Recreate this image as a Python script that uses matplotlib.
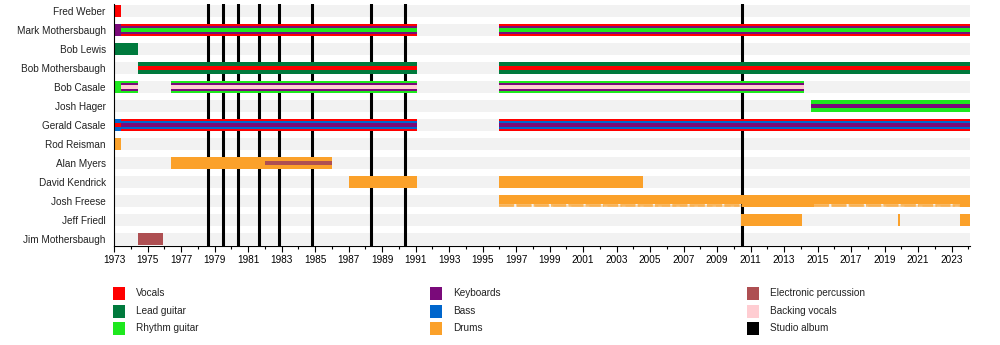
import matplotlib.pyplot as plt
from matplotlib.patches import Rectangle

END = 2024.1

members = ["Fred Weber", "Mark Mothersbaugh", "Bob Lewis", "Bob Mothersbaugh",
           "Bob Casale", "Josh Hager", "Gerald Casale", "Rod Reisman",
           "Alan Myers", "David Kendrick", "Josh Freese", "Jeff Friedl",
           "Jim Mothersbaugh"]

# stints: (start, end, roles from outer stripe to inner stripe)
fred_weber = [(1973.0, 1973.4, ["Vocals"])]
mark_mothersbaugh = [(1973.0, 1973.4, ["Keyboards"]),
                     (1973.4, 1991.1, ["Vocals", "Keyboards", "Rhythm guitar"]),
                     (1996.0, END, ["Vocals", "Keyboards", "Rhythm guitar"])]
bob_lewis = [(1973.0, 1974.45, ["Lead guitar"])]
bob_mothersbaugh = [(1974.45, 1991.1, ["Lead guitar", "Vocals"]),
                    (1996.0, END, ["Lead guitar", "Vocals"])]
bob_casale = [(1973.0, 1973.4, ["Rhythm guitar"]),
              (1973.4, 1974.45, ["Rhythm guitar", "Keyboards", "Backing vocals"]),
              (1976.43, 1991.1, ["Rhythm guitar", "Keyboards", "Backing vocals"]),
              (1996.0, 2014.2, ["Rhythm guitar", "Keyboards", "Backing vocals"])]
josh_hager = [(2014.6, END, ["Rhythm guitar", "Keyboards"])]
gerald_casale = [(1973.0, 1973.4, ["Bass", "Vocals"]),
                 (1973.4, 1991.1, ["Vocals", "Bass", "Keyboards"]),
                 (1996.0, END, ["Vocals", "Bass", "Keyboards"])]
rod_reisman = [(1973.0, 1973.4, ["Drums"])]
alan_myers = [(1976.43, 1982.0, ["Drums"]),
              (1982.0, 1986.03, ["Drums", "Electronic percussion"])]
david_kendrick = [(1987.0, 1991.1, ["Drums"]),
                  (1996.0, 2004.6, ["Drums"])]
josh_freese = [(2010.5, 2014.8, ["Drums"]),
               (2023.5, END, ["Drums"])]
freese_partial = [(1996.0, 2010.5), (2014.8, 2023.5)]
jeff_friedl = [(2010.45, 2014.05, ["Drums"]),
               (2019.8, 2019.9, ["Drums"]),
               (2023.5, END, ["Drums"])]
jim_mothersbaugh = [(1974.45, 1975.9, ["Electronic percussion"])]

lineup = [fred_weber, mark_mothersbaugh, bob_lewis, bob_mothersbaugh,
          bob_casale, josh_hager, gerald_casale, rod_reisman, alan_myers,
          david_kendrick, josh_freese, jeff_friedl, jim_mothersbaugh]

albums = [1978.6, 1979.5, 1980.4, 1981.65, 1982.85, 1984.8, 1988.35, 1990.4, 2010.5]

colors = {
    "Vocals": "#ff0000",
    "Lead guitar": "#007a3d",
    "Rhythm guitar": "#1ee81e",
    "Keyboards": "#7a0a7a",
    "Bass": "#0066cc",
    "Drums": "#fba12a",
    "Electronic percussion": "#ae4f52",
    "Backing vocals": "#ffcdd2",
    "Studio album": "#000000",
}
legend_cols = [["Vocals", "Lead guitar", "Rhythm guitar"],
               ["Keyboards", "Bass", "Drums"],
               ["Electronic percussion", "Backing vocals", "Studio album"]]

# stripe heights by number of stacked roles
heights = {1: [0.63], 2: [0.63, 0.25], 3: [0.63, 0.42, 0.23]}

plt.rcParams['font.family'] = ['Liberation Sans', 'DejaVu Sans']
fig = plt.figure(figsize=(10, 3.45), dpi=100)
ax = fig.add_axes([0.114, 0.2884, 0.856, 0.6986])

for i in range(len(members)):
    ax.broken_barh([(1973.0, END - 1973.0)], (i - 0.315, 0.63),
                   color="#f2f2f2", zorder=1, lw=0)

ax.vlines(albums, -0.5, len(members), color="black", lw=2.2, zorder=2)

for i, stints in enumerate(lineup):
    for start, end, roles in stints:
        for role, h in zip(roles, heights[len(roles)]):
            ax.broken_barh([(start, end - start)], (i - h / 2, h),
                           color=colors[role], lw=0, zorder=3)

# Josh Freese's partial periods: solid top, soft broken lower edge
jf = members.index("Josh Freese")
for start, end in freese_partial:
    ax.broken_barh([(start, end - start)], (jf - 0.315, 0.44),
                   color=colors["Drums"], lw=0, zorder=3)
    ax.hlines(jf + 0.18, start, end, color=colors["Drums"], lw=2.6,
              linestyles=(0, (4.2, 0.6)), alpha=0.7, zorder=3)
    ax.hlines(jf + 0.26, start, end, color=colors["Drums"], lw=1.4,
              linestyles=(0, (7.5, 1.8)), alpha=0.3, zorder=3)

ax.set_xlim(1973.0, END)
ax.set_ylim(len(members) - 0.67, -0.33)
ax.set_yticks(range(len(members)))
ax.set_yticklabels(members, fontsize=7.2, color="#222222")
ax.tick_params(axis="y", length=0, pad=6)
ax.set_xticks(range(1973, 2024, 2))
ax.set_xticks(range(1973, 2025), minor=True)
ax.tick_params(axis="x", which="major", length=4, width=0.8, labelsize=7.2, pad=3)
ax.tick_params(axis="x", which="minor", length=2.5, width=0.8)
for side in ["top", "right"]:
    ax.spines[side].set_visible(False)
for side in ["left", "bottom"]:
    ax.spines[side].set_linewidth(0.8)
    ax.spines[side].set_zorder(4)

# legend laid out in three columns under the timeline
col_x = [113, 430, 747]
row_y = [293.5, 311, 328]
for cx, col in zip(col_x, legend_cols):
    for ry, label in zip(row_y, col):
        fig.add_artist(Rectangle(((cx) / 1000, 1 - (ry + 6.5) / 345), 12 / 1000, 13 / 345,
                                 transform=fig.transFigure, color=colors[label], lw=0))
        fig.text((cx + 23) / 1000, 1 - ry / 345, label, fontsize=7.2,
                 va="center", ha="left", color="#222222")

fig.savefig("out.png", dpi=100)
